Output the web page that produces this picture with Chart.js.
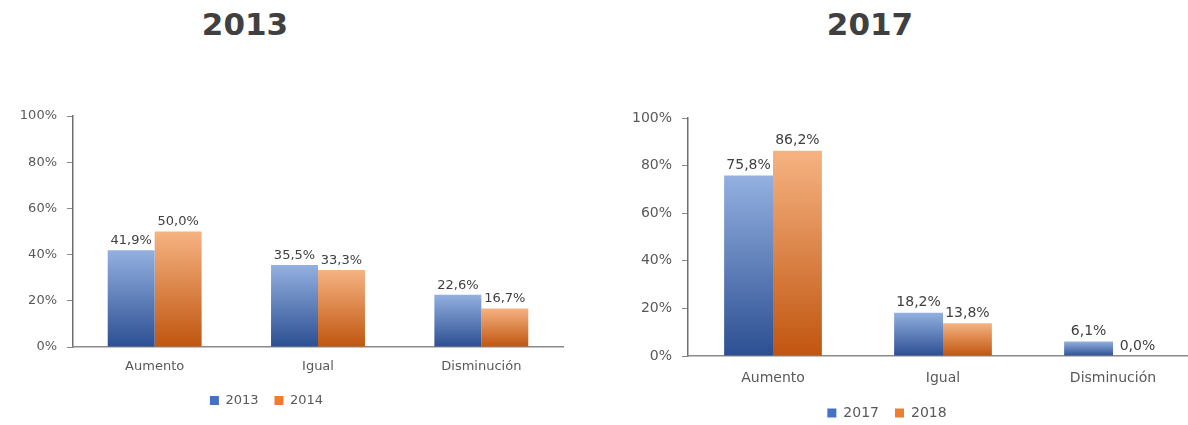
<!DOCTYPE html>
<html>
<head>
<meta charset="utf-8">
<script src="https://cdn.jsdelivr.net/npm/chart.js@4/dist/chart.umd.min.js"></script>
<style>
  body { margin: 0; width: 1188px; height: 425px; overflow: hidden; background: #fff; position: relative; }
  .title { position: absolute; top: 6px; width: 200px; text-align: center;
           font: bold 31px "DejaVu Sans", sans-serif; color: #404040; }
  canvas { position: absolute; }
</style>
</head>
<body>
<div class="title" style="left:145px">2013</div>
<div class="title" style="left:770px">2017</div>
<canvas id="chartLeft" width="600" height="327" style="left:-30px;top:90px"></canvas>
<canvas id="chartRight" width="624" height="340" style="left:576px;top:90px"></canvas>
<script>
// 分类与数据
var categories = ['Aumento', 'Igual', 'Disminución'];
var yTicks = [0, 20, 40, 60, 80, 100];

var leftLabels = ['2013', '2014'];
var values2013 = [41.9, 35.5, 22.6];
var values2014 = [50.0, 33.3, 16.7];

var rightLabels = ['2017', '2018'];
var values2017 = [75.8, 18.2, 6.1];
var values2018 = [86.2, 13.8, 0.0];

// 颜色
var blueTop = '#93b0e0', blueBottom = '#2c4f92', blueSolid = '#4472c4';
var orangeTop = '#f6b382', orangeBottom = '#c0550f', orangeSolid = '#ed7d31';
var legendColors = [blueSolid, orangeSolid];

// 每根柱子的竖直渐变
function barFill(top, bottom, solid) {
    return function (context) {
        var chart = context.chart;
        if (context.type !== 'data' || !chart.chartArea || !chart.scales.y) return solid;
        var y = chart.scales.y;
        var y0 = y.getPixelForValue(context.raw);
        var y1 = y.getPixelForValue(0);
        if (y1 - y0 < 1) return bottom;
        var g = chart.ctx.createLinearGradient(0, y0, 0, y1);
        g.addColorStop(0, top);
        g.addColorStop(1, bottom);
        return g;
    };
}

function fmt(v) {
    return v.toFixed(1).replace('.', ',') + '%';
}

// 数据标签
var valueLabels = {
    id: 'valueLabels',
    afterDatasetsDraw: function (chart, args, opts) {
        var ctx = chart.ctx;
        ctx.save();
        ctx.font = opts.size + 'px "DejaVu Sans", sans-serif';
        ctx.fillStyle = '#404040';
        ctx.textAlign = 'center';
        ctx.textBaseline = 'bottom';
        chart.data.datasets.forEach(function (ds, i) {
            var meta = chart.getDatasetMeta(i);
            meta.data.forEach(function (bar, j) {
                ctx.fillText(fmt(ds.data[j]), bar.x, bar.y - 3);
            });
        });
        ctx.restore();
    }
};

function makeChart(id, labels, a, b, cfg) {
    var font = { family: '"DejaVu Sans", sans-serif', size: cfg.fontSize };
    return new Chart(document.getElementById(id).getContext('2d'), {
        type: 'bar',
        data: {
            labels: categories,
            datasets: [
                { label: labels[0], data: a, backgroundColor: barFill(blueTop, blueBottom, blueSolid), borderWidth: 0 },
                { label: labels[1], data: b, backgroundColor: barFill(orangeTop, orangeBottom, orangeSolid), borderWidth: 0 }
            ]
        },
        plugins: [valueLabels],
        options: {
            responsive: false,
            animation: false,
            categoryPercentage: 0.575,
            barPercentage: 1,
            layout: { padding: { left: 0, right: cfg.padRight, top: cfg.padTop, bottom: 0 } },
            plugins: {
                legend: {
                    position: 'bottom',
                    labels: {
                        boxWidth: 9, boxHeight: 9, padding: 16,
                        color: '#595959', font: font,
                        generateLabels: function (chart) {
                            var items = Chart.defaults.plugins.legend.labels.generateLabels(chart);
                            items.forEach(function (it, i) {
                                it.fillStyle = legendColors[i];
                                it.strokeStyle = legendColors[i];
                                it.lineWidth = 0;
                            });
                            return items;
                        }
                    }
                },
                tooltip: { enabled: false },
                valueLabels: { size: cfg.fontSize }
            },
            scales: {
                y: {
                    min: 0, max: 100,
                    afterFit: function (scale) { scale.width = cfg.axisLeft; },
                    afterBuildTicks: function (scale) {
                        scale.ticks = yTicks.map(function (v) { return { value: v }; });
                    },
                    ticks: {
                        padding: 10, color: '#595959', font: font,
                        callback: function (v) { return v + '%'; }
                    },
                    grid: { drawOnChartArea: false, drawTicks: true, tickLength: 6, color: '#8a8a8a' },
                    border: { color: '#6e6e6e', width: 1.5 }
                },
                x: {
                    afterFit: function (scale) { scale.height = cfg.xHeight; },
                    grid: { display: false, drawTicks: false },
                    ticks: { padding: cfg.xPad, color: '#595959', font: font },
                    border: { color: '#8a8a8a', width: 1.5 }
                }
            }
        }
    });
}

makeChart('chartLeft', leftLabels, values2013, values2014,
    { fontSize: 13, axisLeft: 103, padRight: 7, padTop: 26, xPad: 12, xHeight: 31 });
makeChart('chartRight', rightLabels, values2017, values2018,
    { fontSize: 14, axisLeft: 112, padRight: 2, padTop: 28, xPad: 14, xHeight: 34 });
</script>
</body>
</html>
